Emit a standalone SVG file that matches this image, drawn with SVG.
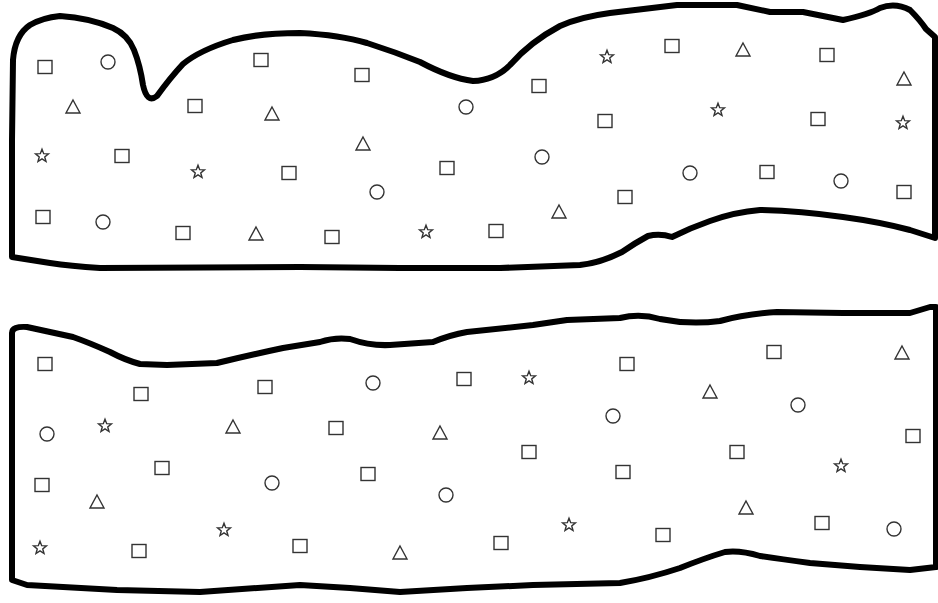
<svg xmlns="http://www.w3.org/2000/svg" xmlns:xlink="http://www.w3.org/1999/xlink" width="938" height="603" viewBox="0 0 938 603">
<style>
.blob{fill:#fff;stroke:#000;stroke-width:6;stroke-linejoin:round;stroke-linecap:round}
.sym{fill:none;stroke:#333;stroke-width:1.4}
</style>
<defs>
<rect id="sq" class="sym" x="-7" y="-6.5" width="14" height="13"/>
<circle id="ci" class="sym" r="7"/>
<polygon id="tr" class="sym" points="0,-7 7,6 -7,6"/>
<polygon id="st" class="sym" points="0,-6.8 1.7,-2.35 6.45,-2.1 2.75,0.9 4,5.5 0,2.9 -4,5.5 -2.75,0.9 -6.45,-2.1 -1.7,-2.35"/>
</defs>
<rect width="938" height="603" fill="#fff"/>
<g id="top-region">
<path class="blob" d="M 12,257 L 12,140 L 13,60 Q 15,35 30,25 Q 42,18 60,16 Q 90,18 113,28 Q 128,35 134,50 Q 140,65 143,85 Q 147,104 157,96 Q 170,78 183,64 Q 200,50 233,40 Q 260,33 300,33 Q 340,35 367,43 Q 395,52 420,62 Q 450,78 473,81 Q 495,80 510,65 Q 530,42 560,26 Q 580,17 610,13 L 677,5 L 737,5 L 770,12 L 803,12 L 843,20 Q 870,14 880,8 Q 895,2 910,10 Q 920,20 926,29 L 935,37 L 935,238 L 910,230 Q 880,222 843,217 Q 800,211 760,210 Q 735,212 710,221 Q 690,228 672,237 Q 660,233 648,236 Q 635,243 622,252 Q 600,263 580,265 L 500,268 L 400,268 L 300,267 L 100,268 Q 70,266 50,263 Z"/>
<use href="#sq" x="45" y="67"/>
<use href="#ci" x="108" y="62"/>
<use href="#tr" x="73" y="107"/>
<use href="#st" x="42" y="156"/>
<use href="#sq" x="122" y="156"/>
<use href="#sq" x="43" y="217"/>
<use href="#ci" x="103" y="222"/>
<use href="#sq" x="183" y="233"/>
<use href="#tr" x="256" y="234"/>
<use href="#sq" x="195" y="106"/>
<use href="#sq" x="261" y="60"/>
<use href="#tr" x="272" y="114"/>
<use href="#st" x="198" y="172"/>
<use href="#sq" x="289" y="173"/>
<use href="#sq" x="362" y="75"/>
<use href="#ci" x="466" y="107"/>
<use href="#sq" x="539" y="86"/>
<use href="#st" x="607" y="57"/>
<use href="#sq" x="605" y="121"/>
<use href="#tr" x="363" y="144"/>
<use href="#sq" x="447" y="168"/>
<use href="#ci" x="542" y="157"/>
<use href="#ci" x="377" y="192"/>
<use href="#sq" x="332" y="237"/>
<use href="#st" x="426" y="232"/>
<use href="#sq" x="496" y="231"/>
<use href="#tr" x="559" y="212"/>
<use href="#sq" x="672" y="46"/>
<use href="#tr" x="743" y="50"/>
<use href="#sq" x="827" y="55"/>
<use href="#tr" x="904" y="79"/>
<use href="#st" x="718" y="110"/>
<use href="#sq" x="818" y="119"/>
<use href="#st" x="903" y="123"/>
<use href="#ci" x="690" y="173"/>
<use href="#sq" x="767" y="172"/>
<use href="#ci" x="841" y="181"/>
<use href="#sq" x="904" y="192"/>
<use href="#sq" x="625" y="197"/>
</g>
<g id="bottom-region">
<path class="blob" d="M 12,333 Q 12,326 27,327 L 50,332 L 73,337 Q 90,343 110,352 Q 125,360 140,364 L 167,365 L 217,363 Q 250,355 283,348 L 320,342 Q 335,337 350,339 Q 370,346 390,345 L 433,342 Q 450,335 467,332 L 533,325 L 567,320 L 620,318 Q 640,313 660,319 Q 690,325 720,321 Q 745,314 777,312 L 843,313 L 910,313 L 930,307 L 936,307 L 936,567 L 910,570 L 860,567 L 810,563 Q 780,559 760,556 Q 740,550 725,552 Q 705,558 680,568 Q 650,578 620,583 L 533,585 L 467,588 L 400,592 L 350,588 L 300,585 L 200,592 L 117,590 L 27,585 L 12,580 Z"/>
<use href="#sq" x="45" y="364"/>
<use href="#sq" x="141" y="394"/>
<use href="#sq" x="265" y="387"/>
<use href="#ci" x="47" y="434"/>
<use href="#st" x="105" y="426"/>
<use href="#tr" x="233" y="427"/>
<use href="#sq" x="162" y="468"/>
<use href="#ci" x="272" y="483"/>
<use href="#sq" x="42" y="485"/>
<use href="#tr" x="97" y="502"/>
<use href="#st" x="40" y="548"/>
<use href="#sq" x="139" y="551"/>
<use href="#st" x="224" y="530"/>
<use href="#sq" x="300" y="546"/>
<use href="#ci" x="373" y="383"/>
<use href="#sq" x="464" y="379"/>
<use href="#st" x="529" y="378"/>
<use href="#sq" x="336" y="428"/>
<use href="#tr" x="440" y="433"/>
<use href="#sq" x="529" y="452"/>
<use href="#sq" x="368" y="474"/>
<use href="#ci" x="446" y="495"/>
<use href="#st" x="569" y="525"/>
<use href="#sq" x="501" y="543"/>
<use href="#tr" x="400" y="553"/>
<use href="#sq" x="627" y="364"/>
<use href="#sq" x="774" y="352"/>
<use href="#tr" x="902" y="353"/>
<use href="#tr" x="710" y="392"/>
<use href="#ci" x="798" y="405"/>
<use href="#ci" x="613" y="416"/>
<use href="#sq" x="913" y="436"/>
<use href="#sq" x="737" y="452"/>
<use href="#st" x="841" y="466"/>
<use href="#sq" x="623" y="472"/>
<use href="#tr" x="746" y="508"/>
<use href="#sq" x="822" y="523"/>
<use href="#ci" x="894" y="529"/>
<use href="#sq" x="663" y="535"/>
</g>
</svg>
